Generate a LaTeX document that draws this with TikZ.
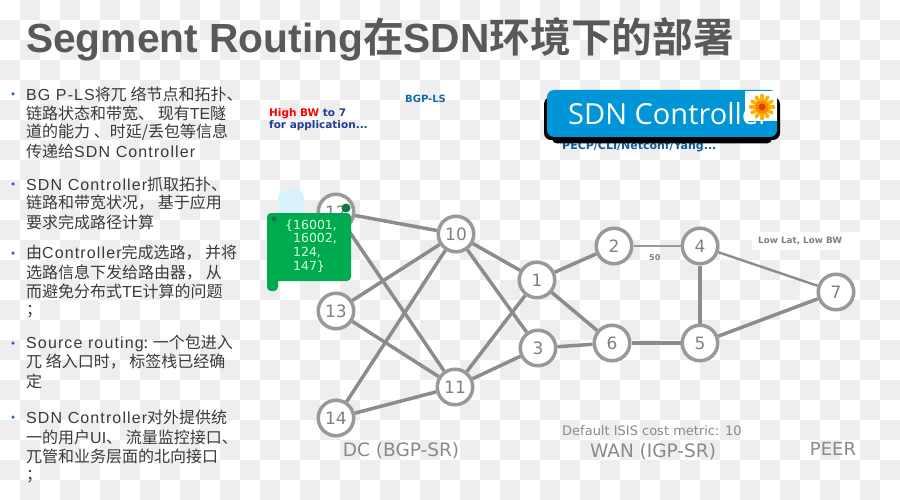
\documentclass[tikz,border=0pt]{standalone}
\usepackage{fontspec}
\setmainfont{Noto Sans CJK SC}
\newfontfamily\titlelat{Liberation Sans}[BoldFont={Liberation Sans Bold}]
\newfontfamily\titlecjk{Noto Sans CJK SC Bold}
\newfontfamily\bodylat[LetterSpace=7]{Liberation Sans}
\newfontfamily\bodytight{Liberation Sans}
\newfontfamily\vera{DejaVu Sans}
\newfontfamily\verab{DejaVu Sans Bold}
\newfontfamily\ctl{Open Sans}
\definecolor{chk}{HTML}{EEEEEE}
\definecolor{ring}{HTML}{999999}
\definecolor{wire}{HTML}{8C8C8C}
\definecolor{txt}{HTML}{3A3A3A}
\definecolor{lab}{HTML}{8A8A8A}
\definecolor{bul}{HTML}{2A63B0}
\definecolor{ctlblue}{HTML}{0095D6}
\definecolor{navy}{HTML}{1F3C98}
\definecolor{teal}{HTML}{0F6CA8}
\definecolor{pecpc}{HTML}{0F5A9E}
\definecolor{gbox}{HTML}{00AB50}
\definecolor{curl}{HTML}{0B7A3A}
\definecolor{petal}{HTML}{FFB000}
\definecolor{petalin}{HTML}{F58A00}
\definecolor{petalc}{HTML}{E83A20}
\tikzset{
  rnode/.style={circle,draw=ring,line width=3.5pt,fill=white,minimum size=35.5pt,inner sep=0pt,text=gray,font=\vera\fontsize{17}{17}\selectfont},
  link/.style={draw=wire,line width=3.5pt},
  line/.style={anchor=west,inner sep=0pt,text=txt,font=\fontsize{16}{16}\selectfont},
  bullet/.style={circle,fill=bul,minimum size=3.5pt,inner sep=0pt},
  zone/.style={anchor=center,inner sep=0pt,text=lab,font=\vera\fontsize{18.5}{18.5}\selectfont},
  tiny/.style={anchor=west,inner sep=0pt,font=\verab\fontsize{10.5}{12}\selectfont},
}
\newcommand{\La}[1]{{\bodylat #1}}
\begin{document}
\begin{tikzpicture}[x=1pt,y=-1pt]
\useasboundingbox (0,0) rectangle (900,500);
\fill[white] (0,0) rectangle (900,500);
\foreach \i in {0,...,44}{\foreach \j in {0,...,24}{
  \pgfmathtruncatemacro{\m}{mod(\i+\j,2)}
  \ifnum\m=1 \fill[chk] (20*\i,20*\j) rectangle +(20,20);\fi
}}
% title
\node[anchor=west,inner sep=0pt,text=black!65] (title) at (26,39)
  {\fontsize{40.7}{41}\selectfont{\titlelat\bfseries Segment Routing}{\titlecjk 在}{\titlelat\bfseries SDN}{\titlecjk 环境下的部署}};
% bullets
\foreach \n/\y in {b1/94,b2/184,b3/253,b4/343,b5/417}
  \node[bullet] (\n) at (13,\y) {};
% left text
\node[line] (l1) at (26,94) {\La{BG P-LS}将兀 络节点和拓扑、};
\node[line] (l2) at (26,113) {链路状态和带宽、 现有\bodytight TE\normalfont 隧};
\node[line] (l3) at (26,132) {道的能力 、时延/丢包等信息};
\node[line] (l4) at (26,151) {传递给\La{SDN Controller}};
\node[line] (l5) at (26,184) {\La{SDN Controller}抓取拓扑、};
\node[line] (l6) at (26,203) {链路和带宽状况， 基于应用};
\node[line] (l7) at (26,222) {要求完成路径计算};
\node[line] (l8) at (26,253) {由\La{Controller}完成选路， 并将};
\node[line] (l9) at (26,273) {选路信息下发给路由器， 从};
\node[line] (l10) at (26,291) {而避免分布式\bodytight TE\normalfont 计算的问题};
\node[line] (l11) at (26,312) {；};
\node[line] (l12) at (26,343) {\La{Source routing}: 一个包进入};
\node[line] (l13) at (26,362) {兀 络入口时， 标签栈已经确};
\node[line] (l14) at (26,381) {定};
\node[line] (l15) at (26,417) {\La{SDN Controller}对外提供统};
\node[line] (l16) at (26,437) {一的用户\bodytight UI\normalfont 、 流量监控接口、};
\node[line] (l17) at (26,456) {兀管和业务层面的北向接口};
\node[line] (l18) at (26,477) {；};
% labels top
\node[tiny,text=teal,font=\verab\fontsize{10}{12}\selectfont] (ls) at (405,99) {BGP-LS};
\node[tiny,text=navy,align=left] (bw) at (269,119.5) {{\color{red}High BW} to 7\\for application...};
% controller
\node[tiny,text=pecpc,font=\verab\fontsize{11}{12}\selectfont] (pecp) at (562,147) {PECP/CLI/Netconf/Yang...};
\fill[black,rounded corners=7pt] (544,97) rectangle (780,140);
\fill[black,rounded corners=5pt] (552,110) rectangle (772,143.5);
\fill[ctlblue,rounded corners=7pt] (547,90) rectangle (777,137);
\node[anchor=west,inner sep=0pt,text=white,font=\ctl\fontsize{29}{29}\selectfont] (ctl) at (568,114) {SDN Controller};
\fill[white] (745,91) rectangle (777,121);
\foreach \a in {0,30,...,330}
  \draw[petal,line width=3.6pt,line cap=round] (762,107) ++(\a:5) -- ++(\a:6.5);
\fill[petalin] (762,107) circle (6.5);
\fill[petalc] (762,107) circle (3.5);
% white patch + small labels
\fill[white] (752,232) rectangle (860,250);
\node[tiny,text=gray,font=\verab\fontsize{8.8}{9}\selectfont] (low) at (758,241) {Low Lat, Low BW};
\node[tiny,text=gray,font=\verab\fontsize{8}{9}\selectfont] (fifty) at (649,258) {50};
\node[anchor=west,inner sep=0pt,text=lab,font=\vera\fontsize{13}{13}\selectfont] (metric) at (562,431) {Default ISIS cost metric: 10};
\node[zone] (dc) at (401,450.5) {DC (BGP-SR)};
\node[zone] (wan) at (653,452) {WAN (IGP-SR)};
\node[zone,font=\vera\fontsize{18}{18}\selectfont] (peer) at (833,449) {PEER};
% router nodes
\node[rnode] (n12) at (336,212) {12};
\node[rnode] (n13) at (336,311) {13};
\node[rnode] (n14) at (336,418) {14};
\node[rnode] (n10) at (456,234) {10};
\node[rnode] (n11) at (455,387) {11};
\node[rnode] (n1) at (537,280) {1};
\node[rnode] (n3) at (538,348) {3};
\node[rnode] (n2) at (614,246) {2};
\node[rnode] (n6) at (612,343) {6};
\node[rnode] (n4) at (700,246) {4};
\node[rnode] (n5) at (700,343) {5};
\node[rnode] (n7) at (836,292) {7};
% links
\foreach \a/\b in {n12/n10,n12/n11,n13/n10,n13/n11,n14/n10,n14/n11,n10/n1,n10/n3,n11/n1,n11/n3,n1/n2,n1/n6,n3/n6,n4/n5,n5/n7,n6/n5}
  \draw[link] (\a) -- (\b);
\draw[link,line width=2.4pt] (n4) -- (n7);
\draw[draw=ring,line width=1.5pt] (n2) -- (n4);
% green tag
\fill[cyan!15,rounded corners=9pt] (278,189) rectangle (304,225);
\fill[gbox,rounded corners=4pt] (267,213) rectangle (351,281);
\fill[gbox,rounded corners=4pt] (267,270) rectangle (278,291);
\fill[curl] (346,208) circle (4.5);
\fill[curl] (274,219) circle (2.5);
\node[anchor=north west,inner sep=0pt,text=green!15!white,align=left,font=\vera\fontsize{12.5}{13.8}\selectfont] (stack) at (285,219.5) {\{16001,\\\ \ 16002,\\\ \ 124,\\\ \ 147\}};
\end{tikzpicture}
\end{document}
